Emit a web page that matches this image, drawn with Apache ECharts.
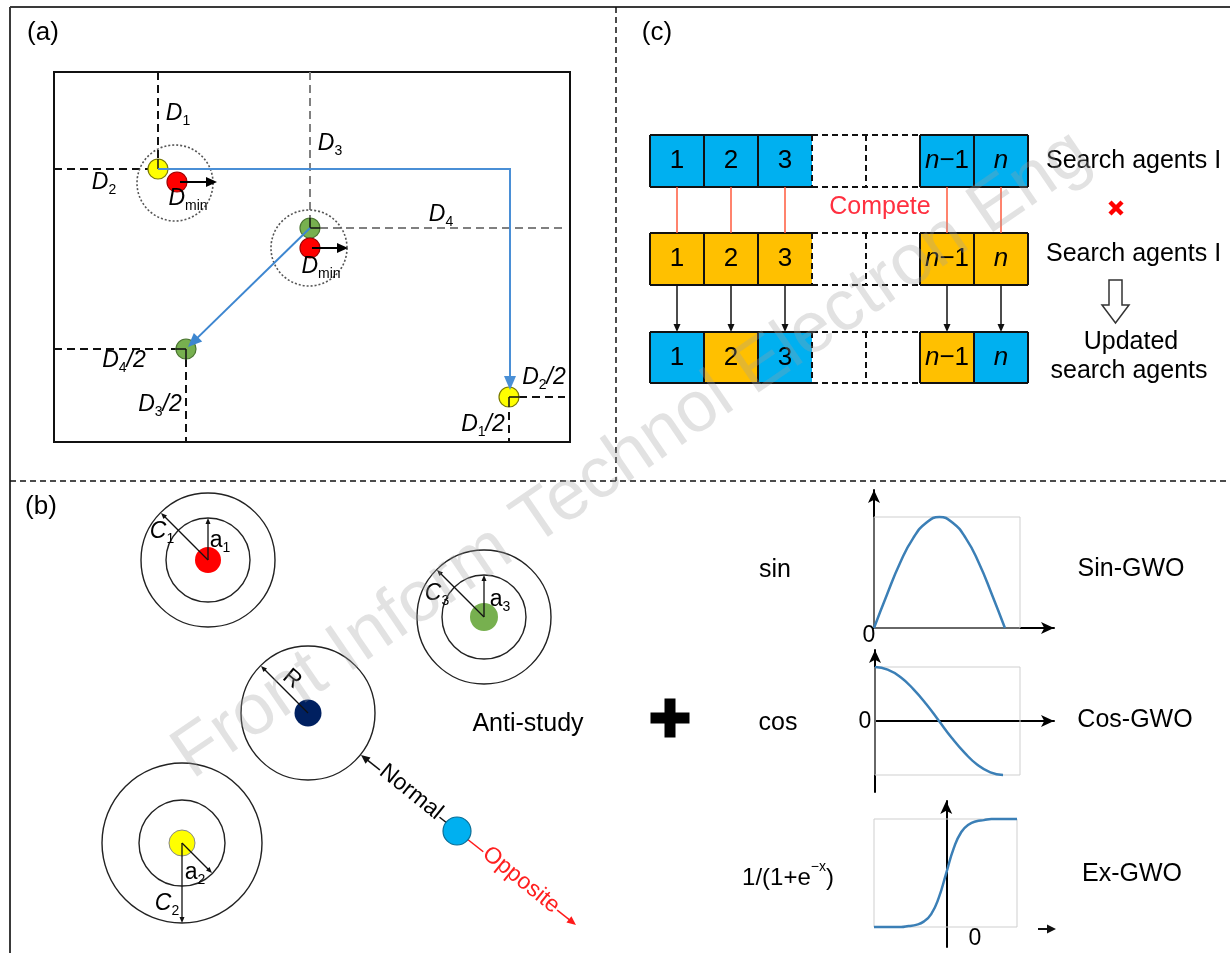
<!DOCTYPE html>
<html><head><meta charset="utf-8">
<script src="https://cdn.jsdelivr.net/npm/echarts@6/dist/echarts.min.js"></script>
<style>html,body{margin:0;padding:0;background:#fff}#c{width:1230px;height:953px}</style>
</head><body><div id="c"></div>
<script>
const FONT = '"Liberation Sans", Arial, sans-serif';

// ================= DATA (diagram units on a 1230 x 953 canvas scale) =================
// Frame
const frameSolid  = [[[10,7],[1230,7]], [[10,7],[10,953]]];
const frameDashed = [[[616,7],[616,481]], [[10,481],[1230,481]]];
const panelLabels = [['(a)',43,33], ['(c)',657,33], ['(b)',41,507]];

// Panel (a): search space
const searchSpace = [[54,72],[570,442]];
const dashBlack = [[[158,72],[158,160]], [[54,169],[148,169]], [[54,349],[176,349]], [[186,359],[186,442]], [[519,397],[565,397]], [[509,412],[509,442]]];
const dashGray  = [[[310,72],[310,218]], [[320,228],[565,228]]];
const dottedRings = [[175,183,38], [309,248,38]];
const wolvesA = [['y',158,169], ['r',177,182], ['g',310,228], ['r',310,248], ['g',186,349], ['y',509,397]];
const tickMarks = [[[158,159],[158,169]], [[310,218],[310,228]], [[310,228],[320,228]], [[176,349],[186,349]], [[186,349],[186,359]], [[509,397],[519,397]], [[509,397],[509,407]]];
const moveArrows = [[[158,169],[510,169],[510,390]], [[310,228],[188,347]]];
const minArrows  = [[[180,182],[217,182]], [[312,248],[348,248]]];
const distLabels = [['D','1','',178,114], ['D','2','',104,183], ['D','3','',330,144], ['D','4','',441,215],
                    ['D','min','',188,199], ['D','min','',321,267], ['D','4','/2',124,361], ['D','3','/2',160,405],
                    ['D','2','/2',544,378], ['D','1','/2',483,425]];

// Panel (c): search agents
const cellEdges = [650,704,758,812,866,920,974,1028];
const rowSpans  = [[135,187],[233,285],[332,383]];
const cellText  = ['1','2','3','','','n−1','n'];
const rowFill   = [['B','B','B','','','B','B'], ['O','O','O','','','O','O'], ['B','O','B','','','O','B']];
const competeX  = [677,731,785,947,1001];
const rowNames  = [['Search agents I',1046,161], ['Search agents I',1046,254]];
const updatedText = [['Updated',1131,342], ['search agents',1129,371]];
const competeLabel = ['Compete',880,207];
const crossMark = [1116,208];
const hollowArrow = [[1109,280],[1122,280],[1122,305],[1129,305],[1115.5,323],[1102,305],[1109,305]];

// Panel (b): wolves with encircling rings
const ringsB = [['r',208,560,13,[42,67]], ['g',484,617,14,[42,67]], ['n',308,713,13.5,[67]], ['y',182,843,13,[43,80]]];
const radiusArrows = [[[208,560],[161,513]], [[208,560],[208,518]], [[484,617],[437,570]], [[484,617],[484,575]],
                      [[308,713],[261,666]], [[182,843],[212,873]], [[182,843],[182,923]]];
const radiusLabels = [['C','1',162,532,true], ['a','1',220,541,false], ['C','3',437,594,true], ['a','3',500,600,false],
                      ['C','2',167,904,true], ['a','2',195,873,false]];
const scoutWolf = ['c',457,831,14];
const normalArrow   = [[457,831],[361,755]];
const oppositeArrow = [[457,831],[576,925]];
const freeLabels = [['R',292,679,-0.70,'#000'], ['Normal',411,792,-0.68,'#000'], ['Opposite',521,880,-0.68,'#ff2020']];
const antiStudy = ['Anti-study',528,724];

// Right part of (b): mapping functions
const plusSign = [670,718];
const funcLabels = [['sin',775,570], ['cos',778,723]];
const sigmoidLabel = [788,875];
const variantLabels = [['Sin-GWO',1131,569], ['Cos-GWO',1135,720], ['Ex-GWO',1132,874]];
const zeroLabels = [[869,636], [865,722], [975,939]];
const plotBoxes = [[[874,517],[1020,628]], [[875,667],[1020,775]], [[874,819],[1017,927]]];
const sigmoidXArrow = [[1038,929],[1056,929]];

const sinCurve = [[0,0],[0.31,0.30],[0.63,0.59],[0.94,0.81],[1.26,0.95],[1.57,1.00],[1.88,0.95],[2.20,0.81],[2.51,0.59],[2.83,0.30],[3.14,0]];
const cosCurve = [[0,1.00],[0.31,0.95],[0.63,0.81],[0.94,0.59],[1.26,0.31],[1.57,0],[1.88,-0.31],[2.20,-0.59],[2.51,-0.81],[2.83,-0.95],[3.14,-1.00]];
const sigCurve = [[-9.6,0],[-6,0.00],[-5,0.01],[-4,0.02],[-3,0.05],[-2,0.12],[-1,0.27],[0,0.50],[1,0.73],[2,0.88],[3,0.95],[4,0.98],[5,0.99],[6,1.00],[9.4,1.00]];

const watermark = ['Front Inform Technol Electron Eng', 632, 455, 0.60];

// ================= STYLES =================
const WOLF = {y:['#ffff00','#7a7a00'], r:['#ff0000','#a00000'], g:['#77b04f','#4a7530'], n:['#002060','#001845'], c:['#00b0f0','#0b6e96']};
const CELL = {B:'#00b0f0', O:'#ffc000'};
const CURVE = '#3b7fb6';

function renderAll(params, api) {
  const P = (x,y) => api.coord([x,y]);
  const ch = [];
  const poly = (pts, stroke, lw, dash) => ch.push({type:'polyline', shape:{points:pts.map(p=>P(p[0],p[1]))},
      style:{stroke, lineWidth:lw, fill:null, lineDash:dash||null}});
  const circ = (x,y,r,fill,stroke,lw,dash) => { const p=P(x,y); ch.push({type:'circle', shape:{cx:p[0],cy:p[1],r},
      style:{fill:fill||null, stroke:stroke||null, lineWidth:lw||1, lineDash:dash||null}}); };
  const rect = (x1,y1,x2,y2,fill,stroke,lw) => { const a=P(x1,y1), b=P(x2,y2); ch.push({type:'rect',
      shape:{x:Math.min(a[0],b[0]), y:Math.min(a[1],b[1]), width:Math.abs(b[0]-a[0]), height:Math.abs(b[1]-a[1])},
      style:{fill:fill||null, stroke:stroke||null, lineWidth:lw||1}}); };
  const polygon = (pts, fill, stroke, lw) => ch.push({type:'polygon', shape:{points:pts.map(p=>P(p[0],p[1]))},
      style:{fill, stroke:stroke||null, lineWidth:lw||1}});
  const arrow = (pts, color, lw, L, Wd) => {
    const px = pts.map(p=>P(p[0],p[1]));
    const n = px.length, a = px[n-2], b = px[n-1];
    const dx=b[0]-a[0], dy=b[1]-a[1], d=Math.hypot(dx,dy), ux=dx/d, uy=dy/d;
    const bx=b[0]-ux*L, by=b[1]-uy*L;
    const linePts = px.slice(0,n-1).concat([[b[0]-ux*L*0.6, b[1]-uy*L*0.6]]);
    ch.push({type:'polyline', shape:{points:linePts}, style:{stroke:color, lineWidth:lw, fill:null}});
    ch.push({type:'polygon', shape:{points:[[b[0],b[1]],[bx-uy*Wd,by+ux*Wd],[bx+uy*Wd,by-ux*Wd]]}, style:{fill:color}});
  };
  const text = (x,y,str,size,o={}) => { const p=P(x,y); ch.push({type:'text', x:p[0], y:p[1], rotation:o.rot||0,
      style:{text:str, fill:o.color||'#000', font:(o.italic?'italic ':'')+(o.bold?'bold ':'')+size+'px '+FONT,
      align:o.align||'center', verticalAlign:'middle', backgroundColor:o.bg||null, padding:o.pad||0}}); };
  const rich = (x,y,str,defs,o={}) => { const p=P(x,y); ch.push({type:'text', x:p[0], y:p[1], rotation:o.rot||0,
      style:{text:str, rich:defs, align:o.align||'center', verticalAlign:'middle', fill:'#000', font:'25px '+FONT}}); };
  const subDefs = (size, sub, italic) => ({
    b:{fontSize:size, fontFamily:FONT, fontStyle:italic?'italic':'normal', lineHeight:size+6, verticalAlign:'middle', fill:'#000'},
    s:{fontSize:sub, fontFamily:FONT, lineHeight:sub, verticalAlign:'bottom', fill:'#000'},
    t:{fontSize:size, fontFamily:FONT, fontStyle:'italic', lineHeight:size+6, verticalAlign:'middle', fill:'#000'}
  });

  // ---- frame ----
  frameSolid.forEach(s => poly(s, '#3a3a3a', 2));
  frameDashed.forEach(s => poly(s, '#111', 1.5, [6,4]));
  panelLabels.forEach(l => text(l[1], l[2], l[0], 26));

  // ---- panel (a) ----
  rect(searchSpace[0][0], searchSpace[0][1], searchSpace[1][0], searchSpace[1][1], null, '#111', 2);
  dashBlack.forEach(s => poly(s, '#111', 2, [8,5]));
  dashGray.forEach(s => poly(s, '#808080', 2, [8,5]));
  dottedRings.forEach(r => circ(r[0], r[1], r[2], null, '#555', 1.6, [2,2]));
  wolvesA.forEach(w => circ(w[1], w[2], 10, WOLF[w[0]][0], WOLF[w[0]][1], 1.2));
  tickMarks.forEach(s => poly(s, '#111', 1.5));
  arrow(moveArrows[0], '#4a8fd6', 2, 14, 6);
  arrow(moveArrows[1], '#3d86d0', 2, 14, 6);
  minArrows.forEach(s => arrow(s, '#000', 2, 11, 5));
  distLabels.forEach(l => {
    const str = '{b|'+l[0]+'}{s|'+l[1]+'}' + (l[2] ? '{t|'+l[2]+'}' : '');
    rich(l[3], l[4], str, subDefs(23, 14, true));
  });

  // ---- panel (c) ----
  rowSpans.forEach((rs, ri) => {
    const [y1, y2] = rs;
    for (let k = 0; k < 7; k++) {
      const f = rowFill[ri][k];
      if (f) rect(cellEdges[k], y1, cellEdges[k+1], y2, CELL[f], null);
    }
    // solid outlines of filled groups
    poly([[cellEdges[0],y1],[cellEdges[3],y1]], '#111', 2);
    poly([[cellEdges[0],y2],[cellEdges[3],y2]], '#111', 2);
    poly([[cellEdges[5],y1],[cellEdges[7],y1]], '#111', 2);
    poly([[cellEdges[5],y2],[cellEdges[7],y2]], '#111', 2);
    [0,1,2,5,6,7].forEach(k => poly([[cellEdges[k],y1],[cellEdges[k],y2]], '#111', 2));
    // dashed empty part
    poly([[cellEdges[3],y1],[cellEdges[5],y1]], '#111', 2, [6,4]);
    poly([[cellEdges[3],y2],[cellEdges[5],y2]], '#111', 2, [6,4]);
    [3,4].forEach(k => poly([[cellEdges[k],y1],[cellEdges[k],y2]], '#111', 2, [6,4]));
    // labels
    const cy = (y1+y2)/2;
    cellText.forEach((t, k) => {
      if (!t) return;
      const cx = (cellEdges[k]+cellEdges[k+1])/2;
      if (t[0] === 'n') {
        const str = '{i|n}' + (t.length > 1 ? '{r|' + t.slice(1) + '}' : '');
        rich(cx, cy, str, {i:{fontSize:26, fontFamily:FONT, fontStyle:'italic', fill:'#000'},
                           r:{fontSize:26, fontFamily:FONT, fill:'#000'}});
      } else text(cx, cy, t, 26);
    });
  });
  competeX.forEach(x => poly([[x,rowSpans[0][1]],[x,rowSpans[1][0]]], '#ff5a3c', 1.5));
  competeX.forEach(x => arrow([[x,rowSpans[1][1]],[x,rowSpans[2][0]]], '#111', 1.5, 8, 3.5));
  text(competeLabel[1], competeLabel[2], competeLabel[0], 25, {color:'#ff3040'});
  rowNames.forEach(r => text(r[1], r[2], r[0], 25, {align:'left'}));
  updatedText.forEach(r => text(r[1], r[2], r[0], 25));
  poly([[crossMark[0]-6,crossMark[1]-6],[crossMark[0]+6,crossMark[1]+6]], '#ff0000', 4.5);
  poly([[crossMark[0]+6,crossMark[1]-6],[crossMark[0]-6,crossMark[1]+6]], '#ff0000', 4.5);
  polygon(hollowArrow, '#fff', '#333', 1.5);

  // ---- panel (b) ----
  ringsB.forEach(g => {
    g[4].forEach(r => circ(g[1], g[2], r, null, '#222', 1.4));
    circ(g[1], g[2], g[3], WOLF[g[0]][0], g[0]==='y' ? '#888' : null, 1);
  });
  radiusArrows.forEach(s => arrow(s, '#111', 1.3, 6, 2.5));
  radiusLabels.forEach(l => rich(l[2], l[3], '{b|'+l[0]+'}{s|'+l[1]+'}', subDefs(23, 14, l[4])));
  arrow(normalArrow, '#111', 1.5, 9, 4);
  arrow(oppositeArrow, '#ff1a1a', 1.5, 9, 4);
  circ(scoutWolf[1], scoutWolf[2], scoutWolf[3], WOLF.c[0], WOLF.c[1], 1.2);
  freeLabels.forEach(l => text(l[1], l[2], l[0], 23, {rot:l[3], color:l[4], bg:l[0]==='R'?null:'#fff', pad:[0,1]}));
  text(antiStudy[1], antiStudy[2], antiStudy[0], 25);

  // ---- mapping functions ----
  rect(plusSign[0]-19.5, plusSign[1]-5.5, plusSign[0]+19.5, plusSign[1]+5.5, '#000');
  rect(plusSign[0]-5.5, plusSign[1]-19.5, plusSign[0]+5.5, plusSign[1]+19.5, '#000');
  funcLabels.forEach(l => text(l[1], l[2], l[0], 25));
  rich(sigmoidLabel[0], sigmoidLabel[1], '{n|1/(1+e}{p|−x}{n|)}', {
    n:{fontSize:24, fontFamily:FONT, lineHeight:30, verticalAlign:'bottom', fill:'#000'},
    p:{fontSize:14, fontFamily:FONT, lineHeight:14, verticalAlign:'top', fill:'#000'}});
  variantLabels.forEach(l => text(l[1], l[2], l[0], 25));
  zeroLabels.forEach(z => text(z[0], z[1], '0', 23));
  plotBoxes.forEach(b => rect(b[0][0], b[0][1], b[1][0], b[1][1], null, '#cfcfcf', 1));
  arrow(sigmoidXArrow, '#111', 2, 9, 4.5);

  return {type:'group', children:ch};
}

function renderWatermark(params, api) {
  const p = api.coord([watermark[1], watermark[2]]);
  return {type:'text', x:p[0], y:p[1], rotation:watermark[3],
    style:{text:watermark[0], font:'72px '+FONT, fill:'rgba(160,160,160,0.30)', align:'center', verticalAlign:'middle'}};
}

const hiddenAxis = (gi, min, max, inv) => ({gridIndex:gi, type:'value', min, max, inverse:!!inv, show:false});
const arrowAxis = (gi, min, max, showLine) => ({gridIndex:gi, type:'value', min, max,
  axisLine:{show:showLine, onZero:true, symbol:['none','arrow'], symbolSize:[9,13], lineStyle:{color:'#000', width:2}},
  axisTick:{show:false}, axisLabel:{show:false}, splitLine:{show:false}});

const chart = echarts.init(document.getElementById('c'), null, {renderer:'canvas'});
chart.setOption({
  animation:false,
  backgroundColor:'#fff',
  grid:[
    {left:0, top:0, width:1230, height:953},
    {left:874, top:490, width:180, height:138},
    {left:875, top:650, width:179, height:142},
    {left:874, top:801, width:143, height:146}
  ],
  xAxis:[hiddenAxis(0,0,1230), arrowAxis(1,0,4.317,true), arrowAxis(2,0,4.39,true), arrowAxis(3,-9.6,9.4,false)],
  yAxis:[hiddenAxis(0,0,953,true), arrowAxis(1,0,1.243,true), arrowAxis(2,-1.315,1.315,true), arrowAxis(3,-0.185,1.167,true)],
  series:[
    {type:'custom', xAxisIndex:0, yAxisIndex:0, data:[[0,0]], renderItem:renderAll, clip:false, silent:true, z:1},
    {type:'line', xAxisIndex:1, yAxisIndex:1, data:sinCurve, smooth:true, showSymbol:false, lineStyle:{color:CURVE, width:2.5}, z:3},
    {type:'line', xAxisIndex:2, yAxisIndex:2, data:cosCurve, smooth:true, showSymbol:false, lineStyle:{color:CURVE, width:2.5}, z:3},
    {type:'line', xAxisIndex:3, yAxisIndex:3, data:sigCurve, smooth:true, showSymbol:false, lineStyle:{color:CURVE, width:2.5}, z:3},
    {type:'custom', xAxisIndex:0, yAxisIndex:0, data:[[0,0]], renderItem:renderWatermark, clip:false, silent:true, z:10}
  ]
});
</script></body></html>
